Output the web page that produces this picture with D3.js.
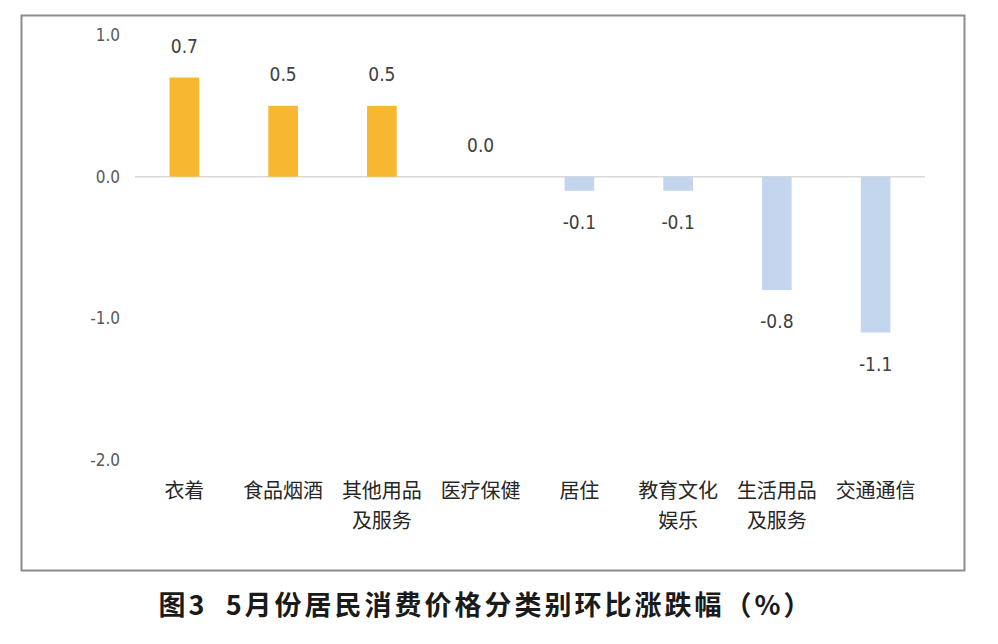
<!DOCTYPE html>
<html>
<head>
<meta charset="utf-8">
<script src="https://cdn.jsdelivr.net/npm/d3@7"></script>
<style>
  body { margin: 0; background: #fff; }
  svg { display: block; }
</style>
</head>
<body>
<div id="chart"></div>
<script>
    // chart data
    var categories = ["衣着", "食品烟酒", "其他用品及服务", "医疗保健", "居住", "教育文化娱乐", "生活用品及服务", "交通通信"];
    var labelLines = [["衣着"], ["食品烟酒"], ["其他用品", "及服务"], ["医疗保健"], ["居住"], ["教育文化", "娱乐"], ["生活用品", "及服务"], ["交通通信"]];
    var values = [0.7, 0.5, 0.5, 0.0, -0.1, -0.1, -0.8, -1.1];
    var yTicks = [1.0, 0.0, -1.0, -2.0];
    var title = "图3\u00a0\u00a05月份居民消费价格分类别环比涨跌幅（%）";

    var svgWidth = 998;
    var svgHeight = 644;

    var svg = d3.select("#chart")
        .append("svg")
        .attr("width", svgWidth)
        .attr("height", svgHeight);

    // outer frame
    svg.append("rect")
        .attr("x", 21.5)
        .attr("y", 15.5)
        .attr("width", 943)
        .attr("height", 555)
        .attr("fill", "#fff")
        .attr("stroke", "#8c8c8c")
        .attr("stroke-width", 2);

    // scales
    var xScale = d3.scaleBand()
        .domain(categories)
        .range([135, 925])
        .paddingInner(0.7)
        .paddingOuter(0.35);

    var yScale = d3.scaleLinear()
        .domain([-2, 1])
        .range([460, 35]);

    // y axis labels only
    var leftAxis = d3.axisLeft(yScale)
        .tickValues(yTicks)
        .tickSize(0)
        .tickPadding(15)
        .tickFormat(d => d.toFixed(1));

    var yAxis = svg.append("g")
        .attr("transform", "translate(135,0)")
        .call(leftAxis);

    yAxis.select(".domain").remove();
    yAxis.selectAll("text")
        .attr("fill", "#595959")
        .style("font-family", "'Liberation Sans Narrow', 'DejaVu Sans Condensed', 'Liberation Sans', sans-serif")
        .style("font-size", "17px");

    // zero line
    svg.append("line")
        .attr("x1", 135)
        .attr("x2", 925)
        .attr("y1", yScale(0))
        .attr("y2", yScale(0))
        .attr("stroke", "#d9d9d9")
        .attr("stroke-width", 1.5);

    // bars
    svg.selectAll(".bar")
        .data(values)
        .enter()
        .append("rect")
        .attr("class", "bar")
        .attr("x", (d, i) => xScale(categories[i]))
        .attr("width", xScale.bandwidth())
        .attr("y", d => yScale(Math.max(d, 0)))
        .attr("height", d => Math.abs(yScale(d) - yScale(0)))
        .attr("fill", d => d >= 0 ? "#F7B730" : "#C4D5EE");

    // value labels
    svg.selectAll(".val")
        .data(values)
        .enter()
        .append("text")
        .attr("class", "val")
        .attr("x", (d, i) => xScale(categories[i]) + xScale.bandwidth() / 2)
        .attr("y", d => d >= 0 ? yScale(d) - 25 : yScale(d) + 38)
        .attr("text-anchor", "middle")
        .attr("fill", "#404040")
        .style("font-family", "'Liberation Sans Narrow', 'DejaVu Sans Condensed', 'Liberation Sans', sans-serif")
        .style("font-size", "19px")
        .text(d => d.toFixed(1));

    // category labels
    var catGroup = svg.selectAll(".cat")
        .data(labelLines)
        .enter()
        .append("text")
        .attr("class", "cat")
        .attr("x", (d, i) => xScale(categories[i]) + xScale.bandwidth() / 2)
        .attr("y", 498)
        .attr("text-anchor", "middle")
        .attr("fill", "#262626")
        .style("font-family", "'Noto Sans CJK SC', sans-serif")
        .style("font-size", "20px");

    catGroup.selectAll("tspan")
        .data(d => d)
        .enter()
        .append("tspan")
        .attr("x", function() { return d3.select(this.parentNode).attr("x"); })
        .attr("dy", (d, i) => i === 0 ? 0 : 30)
        .text(d => d);

    // title
    svg.append("text")
        .attr("x", 486)
        .attr("y", 615)
        .attr("text-anchor", "middle")
        .attr("fill", "#1a1a1a")
        .style("font-family", "'Noto Sans CJK SC', sans-serif")
        .style("font-weight", "bold")
        .style("font-size", "27px")
        .style("letter-spacing", "3px")
        .text(title);
</script>
</body>
</html>
